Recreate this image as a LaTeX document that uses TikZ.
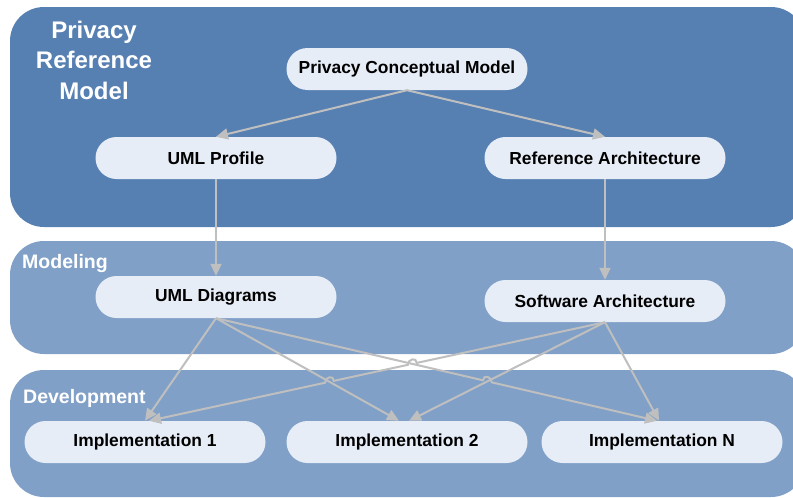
\documentclass[tikz,border=0pt]{standalone}
\usepackage{fontspec}
\setmainfont{Liberation Sans}
\usetikzlibrary{arrows.meta,calc,intersections}
\definecolor{topblue}{HTML}{5780B2}
\definecolor{lightblue}{HTML}{80A0C7}
\definecolor{nodefill}{HTML}{E7EDF7}
\definecolor{arrowgray}{HTML}{BFBFBF}
\begin{document}
\begin{tikzpicture}[x=1pt,y=-1pt,
  box/.style={fill=nodefill, rounded corners=21pt, minimum width=241pt, minimum height=42pt,
    font=\fontsize{17.4}{20}\selectfont\bfseries, text=black, inner sep=0pt},
  panel/.style={rounded corners=34pt},
  conn/.style={draw=arrowgray, line width=2pt, -{Triangle[length=12pt,width=11pt]}},
  lab/.style={text=white, font=\bfseries\fontsize{19.5}{22}\selectfont, anchor=base west, inner sep=0pt},
  ttl/.style={text=white, font=\bfseries\fontsize{24}{30.5}\selectfont, align=center, inner sep=0pt}]
\useasboundingbox (0,0) rectangle (793,498);
\fill[white] (0,0) rectangle (793,498);
\begin{scope}
\clip (0,0) rectangle (793,498);
\fill[topblue, panel] (10,7) rectangle (805,227);
\fill[lightblue, panel] (10,241) rectangle (805,354);
\fill[lightblue, panel] (10,370) rectangle (805,497);
\end{scope}

\node[ttl] (prm) at (94,60) {Privacy\\Reference\\Model};
\node[lab] (modl) at (22,268) {Modeling};
\node[lab] (devl) at (23,403) {Development};

\node[box] (pcm) at (407,69) {Privacy Conceptual Model};
\node[box] (umlp) at (216,158) {UML Profile};
\node[box] (ra) at (605,158) {Reference Architecture};
\node[box] (umld) at (216,297) {UML Diagrams};
\node[box] (sa) at (605,301) {Software Architecture};
\node[box] (i1) at (145,442) {Implementation 1};
\node[box] (i2) at (407,442) {Implementation 2};
\node[box] (in) at (662,442) {Implementation N};

\draw[conn] (pcm.south) -- (umlp.north);
\draw[conn] (pcm.south) -- (ra.north);
\draw[conn] (umlp.south) -- (umld.north);
\draw[conn] (ra.south) -- (sa.north);
\draw[conn] (umld.south) -- (i1.north);
\draw[conn, name path=u2] (umld.south) -- ([xshift=-8pt]i2.north);
\draw[conn] (sa.south) -- ([xshift=-3pt]in.north);
\draw[conn, name path=s2] (sa.south) -- ([xshift=2pt]i2.north);

\path[name path=s1] (sa.south) -- ([xshift=4pt]i1.north);
\path[name path=un] (umld.south) -- ([xshift=-5pt]in.north);
\path[name intersections={of=s1 and un, by=xa}];
\path[name intersections={of=s1 and u2, by=xb}];
\path[name intersections={of=un and s2, by=xc}];

\draw[conn] (sa.south) -- ($(xa)!4.5pt!(sa.south)$)
  .. controls +(0,-6) and +(0,-6) .. ($(xa)!4.5pt!([xshift=4pt]i1.north)$)
  -- ($(xb)!4.5pt!(sa.south)$)
  .. controls +(0,-6) and +(0,-6) .. ($(xb)!4.5pt!([xshift=4pt]i1.north)$)
  -- ([xshift=4pt]i1.north);
\draw[conn] (umld.south) -- ($(xc)!4.5pt!(umld.south)$)
  .. controls +(0,-6) and +(0,-6) .. ($(xc)!4.5pt!([xshift=-5pt]in.north)$)
  -- ([xshift=-5pt]in.north);
\end{tikzpicture}
\end{document}
